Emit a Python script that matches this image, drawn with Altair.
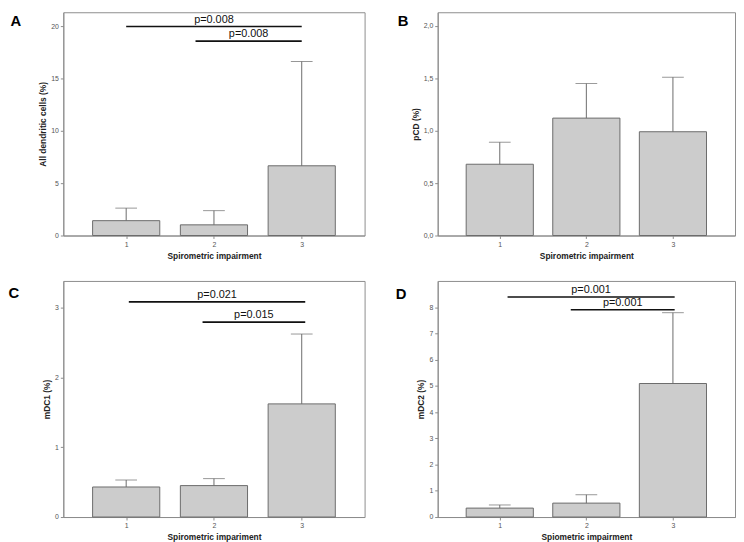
import altair as alt
import pandas as pd

categories = [1, 2, 3]

a_means = [1.42, 1.02, 6.67]
a_upper = [2.62, 2.38, 16.65]
b_means = [0.68, 1.12, 0.99]
b_upper = [0.89, 1.45, 1.51]
c_means = [0.43, 0.45, 1.62]
c_upper = [0.53, 0.55, 2.62]
d_means = [0.34, 0.53, 5.09]
d_upper = [0.46, 0.85, 7.79]

a_sig_from = [1.0, 1.79]
a_sig_to = [3.0, 3.0]
a_sig_y = [20.0, 18.6]
a_sig_labels = ["p=0.008", "p=0.008"]

c_sig_from = [1.03, 1.87]
c_sig_to = [3.04, 3.04]
c_sig_y = [3.08, 2.79]
c_sig_labels = ["p=0.021", "p=0.015"]

d_sig_from = [1.09, 1.82]
d_sig_to = [3.02, 3.02]
d_sig_y = [8.39, 7.9]
d_sig_labels = ["p=0.001", "p=0.001"]

FONT = "Liberation Sans"
XDOM = [0.34, 3.66]


def panel(letter, means, upper, ytitle, xtitle, ymax, yticks, width, height,
          sig=None, comma=False, letter_x=-48, letter_y=6):
    df = pd.DataFrame({"cat": categories, "mean": means, "upper": upper})
    xs = alt.Scale(domain=XDOM, nice=False, zero=False)
    ys = alt.Scale(domain=[0, ymax], nice=False)
    if comma:
        yaxis = alt.Axis(values=yticks, title=ytitle, titlePadding=3, labelOverlap=False,
                         tickCount=len(yticks),
                         labelExpr="replace(format(datum.value, '.1f'), '.', ',')")
    else:
        yaxis = alt.Axis(values=yticks, title=ytitle, titlePadding=3, format="d",
                         tickCount=len(yticks), labelOverlap=False)
    xaxis = alt.Axis(values=categories, format="d", title=xtitle, titlePadding=4,
                     labelAngle=0, labelOverlap=False)
    base = alt.Chart(df)
    bars = base.mark_bar(size=68, fill="#cccccc", stroke="#6b6b6b", strokeWidth=1).encode(
        x=alt.X("cat:Q", scale=xs, axis=xaxis, title=xtitle),
        y=alt.Y("mean:Q", scale=ys, axis=yaxis, title=ytitle),
    )
    whisk = base.mark_rule(color="#6b6b6b", strokeWidth=1).encode(
        x=alt.X("cat:Q", scale=xs, axis=xaxis, title=xtitle),
        y=alt.Y("mean:Q", scale=ys, axis=yaxis, title=ytitle),
        y2="upper:Q",
    )
    caps = base.mark_tick(orient="horizontal", size=22, thickness=1, color="#6b6b6b").encode(
        x=alt.X("cat:Q", scale=xs, axis=xaxis, title=xtitle),
        y=alt.Y("upper:Q", scale=ys, axis=yaxis, title=ytitle),
    )
    layers = [bars, whisk, caps]
    if sig is not None:
        f, t, yv, lab = sig
        sdf = pd.DataFrame({"x1": f, "x2": t, "y": yv, "label": lab})
        sdf["xm"] = (sdf["x1"] + sdf["x2"]) / 2
        sb = alt.Chart(sdf)
        rules = sb.mark_rule(color="#111111", strokeWidth=1.6).encode(
            x=alt.X("x1:Q", scale=xs, axis=xaxis, title=xtitle),
            x2="x2:Q",
            y=alt.Y("y:Q", scale=ys, axis=yaxis, title=ytitle),
        )
        texts = sb.mark_text(font=FONT, fontSize=11, color="#111111",
                             baseline="alphabetic", dy=-4).encode(
            x=alt.X("xm:Q", scale=xs, axis=xaxis, title=xtitle),
            y=alt.Y("y:Q", scale=ys, axis=yaxis, title=ytitle),
            text="label:N",
        )
        layers += [rules, texts]
    ldf = pd.DataFrame({"panel": [letter]})
    let = alt.Chart(ldf).mark_text(font=FONT, fontSize=15, fontWeight="bold",
                                   color="#000000", align="center",
                                   baseline="middle").encode(
        x=alt.value(letter_x), y=alt.value(letter_y), text="panel:N")
    layers.append(let)
    return alt.layer(*layers).properties(width=width, height=height)


pA = panel("A", a_means, a_upper, "All dendritic cells (%)", "Spirometric impairment",
           21.36, [0, 5, 10, 15, 20], 305, 226,
           sig=(a_sig_from, a_sig_to, a_sig_y, a_sig_labels), letter_x=-48, letter_y=9)
pB = panel("B", b_means, b_upper, "pCD (%)", "Spirometric impairment",
           2.13, [0, 0.5, 1.0, 1.5, 2.0], 301, 226, comma=True,
           letter_x=-35, letter_y=9)
pC = panel("C", c_means, c_upper, "mDC1 (%)", "Spirometric impariment",
           3.38, [0, 1, 2, 3], 305, 239,
           sig=(c_sig_from, c_sig_to, c_sig_y, c_sig_labels), letter_x=-50, letter_y=12)
pD = panel("D", d_means, d_upper, "mDC2 (%)", "Spiometric impairment",
           9.0, [0, 1, 2, 3, 4, 5, 6, 7, 8], 301, 239,
           sig=(d_sig_from, d_sig_to, d_sig_y, d_sig_labels), letter_x=-37, letter_y=13)

chart = alt.concat(pA, pB, pC, pD, columns=2, spacing={"row": 46, "column": 74},
                   bounds="flush", align="each").properties(
    padding=0
).configure_view(
    stroke="#8c8c8c", strokeWidth=1
).configure_axis(
    grid=False, labelOverlap=False,
    labelFont=FONT, labelFontSize=7, labelColor="#555555", labelPadding=2,
    tickColor="#8c8c8c", tickSize=3, domainColor="#8c8c8c",
    titleFont=FONT, titleFontSize=8.5, titleFontWeight="bold", titleColor="#222222",
)

chart.save("out.html", embed_options={"renderer": "svg", "actions": False})
